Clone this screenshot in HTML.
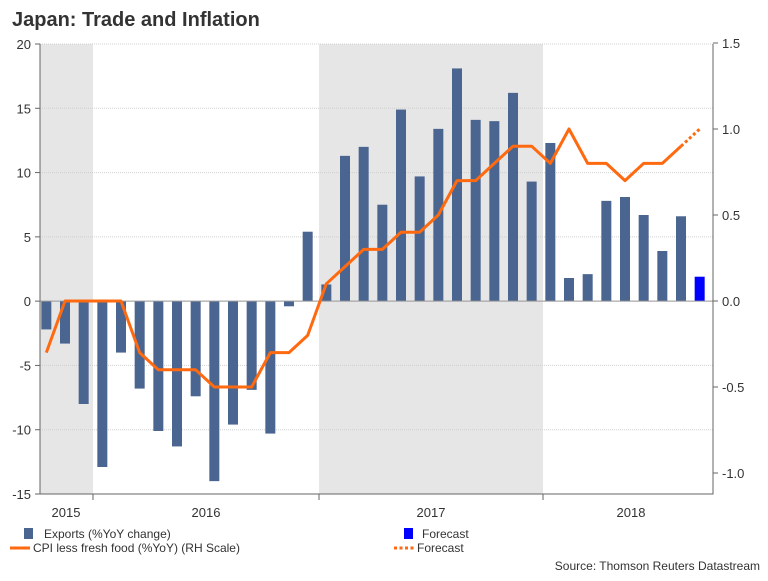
<!DOCTYPE html>
<html><head><meta charset="utf-8"><style>
body{margin:0;background:#fff;font-family:"Liberation Sans",sans-serif;}
svg text{font-family:"Liberation Sans",sans-serif;}
</style></head><body>
<svg id="chart" width="768" height="576" xmlns="http://www.w3.org/2000/svg">
<text x="12" y="26" font-size="20" font-weight="bold" fill="#333">Japan: Trade and Inflation</text>
<g id="plot"></g>
<g font-size="12" fill="#333">
<rect x="24" y="528" width="9" height="11" fill="#4a6590"/>
<text x="44" y="538">Exports (%YoY change)</text>
<rect x="404" y="528" width="9" height="11" fill="#0000ff"/>
<text x="422" y="538">Forecast</text>
<line x1="10" y1="548" x2="30" y2="548" stroke="#ff6a10" stroke-width="3"/>
<text x="33" y="552">CPI less fresh food (%YoY) (RH Scale)</text>
<line x1="394" y1="548" x2="414" y2="548" stroke="#ff6a10" stroke-width="3" stroke-dasharray="3,2.5"/>
<text x="417" y="552">Forecast</text>
<text x="760" y="570" text-anchor="end">Source: Thomson Reuters Datastream</text>
</g>
</svg>
<script>
const months = ["Oct15","Nov15","Dec15","Jan16","Feb16","Mar16","Apr16","May16","Jun16","Jul16","Aug16","Sep16","Oct16","Nov16","Dec16","Jan17","Feb17","Mar17","Apr17","May17","Jun17","Jul17","Aug17","Sep17","Oct17","Nov17","Dec17","Jan18","Feb18","Mar18","Apr18","May18","Jun18","Jul18","Aug18","Sep18"];
const exportsVals = [-2.2,-3.3,-8.0,-12.9,-4.0,-6.8,-10.1,-11.3,-7.4,-14.0,-9.6,-6.9,-10.3,-0.4,5.4,1.3,11.3,12.0,7.5,14.9,9.7,13.4,18.1,14.1,14.0,16.2,9.3,12.3,1.8,2.1,7.8,8.1,6.7,3.9,6.6];
const exportsForecast = [1.9];
const cpiVals = [-0.3,0,0,0,0,-0.3,-0.4,-0.4,-0.4,-0.5,-0.5,-0.5,-0.3,-0.3,-0.2,0.1,0.2,0.3,0.3,0.4,0.4,0.5,0.7,0.7,0.8,0.9,0.9,0.8,1.0,0.8,0.8,0.7,0.8,0.8,0.9];
const cpiForecast = [1.0];
const leftTicks = [20,15,10,5,0,-5,-10,-15];
const rightTicks = [1.5,1.0,0.5,0.0,-0.5,-1.0];
const rightTickLabels = ["1.5","1.0","0.5","0.0","-0.5","-1.0"];
const years = ["2015","2016","2017","2018"];

const NS="http://www.w3.org/2000/svg";
const g=document.getElementById('plot');
const X0=40,X1=713,YT=44,YB=494;
const yL=v=>YT+(20-v)*(YB-YT)/35;
const yR=v=>301-v*172;
const MW=224/12, firstMonthStart=93-3*MW;
const xM=i=>firstMonthStart+(i+0.5)*MW;
function mk(t,a){const e=document.createElementNS(NS,t);for(const k in a)e.setAttribute(k,a[k]);g.appendChild(e);return e;}

let r=mk('rect',{x:X0,y:YT,width:93-X0,height:YB-YT,fill:'#e6e6e6'});


r=mk('rect',{x:319,y:YT,width:224,height:YB-YT,fill:'#e6e6e6'});



leftTicks.forEach((v,i)=>{
  const y=yL(v);
  const l=mk('line',{x1:X0,x2:X1,y1:y,y2:y,stroke:'#d0d0d0','stroke-dasharray':'1,1'});
  
  
  const t=mk('text',{x:31,y:y+5,'text-anchor':'end','font-size':'13',fill:'#333'});
  t.textContent=v;
  
  
  const tk=mk('line',{x1:35,x2:X0,y1:y,y2:y,stroke:'#666'});
  
  
});
rightTicks.forEach((v,i)=>{
  const y=yR(v);
  const t=mk('text',{x:722,y:y+5,'font-size':'13',fill:'#333'});
  t.textContent=rightTickLabels[i];
  
  
  const tk=mk('line',{x1:X1,x2:X1+5,y1:y,y2:y,stroke:'#666'});
  
  
});

exportsVals.forEach((v,i)=>{
  const y=Math.min(yL(v),yL(0)),h=Math.abs(yL(v)-yL(0));
  const b=mk('rect',{x:xM(i)-5,y:y,width:10,height:h,fill:'#4a6590'});
  
  
});
exportsForecast.forEach((v,j)=>{
  const i=exportsVals.length+j;
  const y=Math.min(yL(v),yL(0)),h=Math.abs(yL(v)-yL(0));
  const b=mk('rect',{x:xM(i)-5,y:y,width:10,height:h,fill:'#0000ff'});
  
  
});

const zl=mk('line',{x1:X0,x2:X1,y1:yL(0),y2:yL(0),stroke:'#999'});



const pts=cpiVals.map((v,i)=>xM(i)+','+yR(v)).join(' ');
const pl=mk('polyline',{points:pts,fill:'none',stroke:'#ff6a10','stroke-width':3,'stroke-linejoin':'round'});


const li=cpiVals.length-1;
const fpts=[xM(li)+','+yR(cpiVals[li])].concat(cpiForecast.map((v,j)=>xM(li+1+j)+','+yR(v))).join(' ');
const fl=mk('polyline',{points:fpts,fill:'none',stroke:'#ff6a10','stroke-width':3,'stroke-dasharray':'3,2.5'});



const ax=mk('path',{d:`M${X0},${YT}V${YB}H${X1}V${YT}`,fill:'none',stroke:'#666'});


[93,319,543].forEach(x=>{
  const t=mk('line',{x1:x,x2:x,y1:YB,y2:YB+6,stroke:'#666'});
  
  
});
const yx=[66,206,431,631];
years.forEach((y,i)=>{
  const t=mk('text',{x:yx[i],y:517,'text-anchor':'middle','font-size':'13',fill:'#333'});
  t.textContent=y;
  
  
});
</script>
</body></html>
